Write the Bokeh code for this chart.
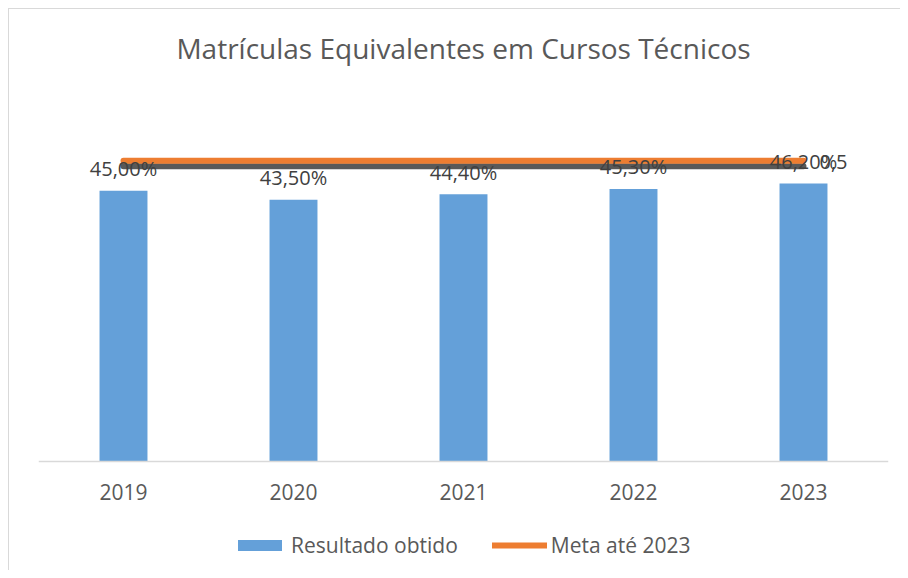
from bokeh.plotting import figure
from bokeh.models import Range1d, FactorRange, Legend, LegendItem, ColumnDataSource, Span
from bokeh.core.properties import value
from bokeh.embed import file_html
from bokeh.resources import INLINE

# ---- data ----
years = ["2019", "2020", "2021", "2022", "2023"]
resultado = [0.45, 0.435, 0.444, 0.453, 0.462]
meta = [0.5, 0.5, 0.5, 0.5, 0.5]
resultado_labels = ["45,00%", "43,50%", "44,40%", "45,30%", "46,20%"]
meta_label = "0,5"
title_text = "Matrículas Equivalentes em Cursos Técnicos"

FONT = "Open Sans"
TXT = "#595959"

src = ColumnDataSource(dict(x=years, top=resultado, lab=resultado_labels,
                            meta=meta, shadow=[m - 0.0095 for m in meta],
                            zero=[0] * len(years)))

p = figure(x_range=FactorRange(*years), y_range=Range1d(-0.1812, 0.7662),
           width=900, height=570, output_backend="svg", toolbar_location=None,
           min_border_left=38, min_border_right=12, min_border_top=0,
           min_border_bottom=0)
p.styles = {"background": "linear-gradient(#d9d9d9,#d9d9d9) 8px 8px / 1px 100% no-repeat, "
                          "linear-gradient(#d9d9d9,#d9d9d9) 8px 8px / 100% 1px no-repeat, white"}
p.outline_line_color = None
p.background_fill_color = None
p.border_fill_color = None
p.xgrid.visible = False
p.ygrid.visible = False
p.yaxis.visible = False
p.xaxis.visible = False

bars = p.vbar(x="x", top="top", width=0.282, source=src,
              fill_color="#64a0d9", line_color=None)

# category axis baseline and labels
p.add_layout(Span(location=0, dimension="width", line_color="#d9d9d9", line_width=1.5))
p.text(x="x", y="zero", text="x", source=src, text_align="center",
       text_baseline="alphabetic", y_offset=31, text_font=value(FONT),
       text_font_size="21px", text_color=TXT)

p.line(x="x", y="shadow", source=src, line_color="#595959", line_width=6,
       line_cap="round")
meta_line = p.line(x="x", y="meta", source=src, line_color="#ed7d31",
                   line_width=6, line_cap="round")

p.text(x="x", y="top", text="lab", source=src, text_align="center",
       text_baseline="alphabetic", y_offset=-22, text_font=value(FONT),
       text_font_size="20px", text_color="#404040")

p.text(x=[years[-1]], y=[meta[-1]], text=[meta_label], text_align="left",
       text_baseline="middle", x_offset=16, y_offset=1, text_font=value(FONT),
       text_font_size="20px", text_color="#404040")

# title
p.text(x=[2.5], y=[0.6], text=[title_text], text_align="center",
       text_baseline="alphabetic", y_offset=-52, text_font=value(FONT),
       text_font_size="28px", text_color=TXT)

legend = Legend(items=[LegendItem(label="Resultado obtido", renderers=[bars]),
                       LegendItem(label="Meta até 2023", renderers=[meta_line])],
                orientation="horizontal", location=(194, 11),
                glyph_width=55, glyph_height=14, label_standoff=4, spacing=34,
                label_text_font=FONT, label_text_font_size="21px",
                label_text_color=TXT, border_line_color=None,
                background_fill_alpha=0, margin=0, padding=4)
p.add_layout(legend)

open("out.html", "w").write(file_html(p, INLINE))
